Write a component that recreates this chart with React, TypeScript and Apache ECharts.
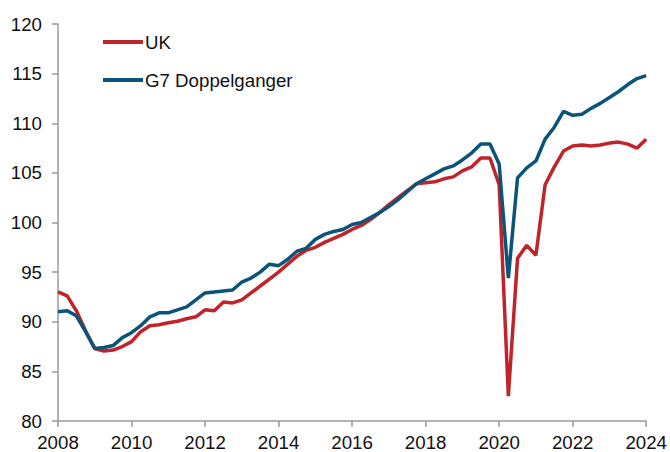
import React, { useEffect, useRef } from "react";
import * as echarts from "echarts";

const START_YEAR = 2008;
const X_TICKS = [2008, 2010, 2012, 2014, 2016, 2018, 2020, 2022, 2024];
const Y_TICKS = [80, 85, 90, 95, 100, 105, 110, 115, 120];

// Quarterly index, 2008Q1 .. 2024Q1
const UK = [
  93.0, 92.6, 91.1, 89.1, 87.3, 87.05, 87.15, 87.5,
  88.0, 89.0, 89.6, 89.7, 89.9, 90.05, 90.3, 90.5,
  91.2, 91.1, 92.0, 91.9, 92.2, 92.9, 93.6, 94.3,
  95.0, 95.8, 96.6, 97.2, 97.5, 98.0, 98.4, 98.8,
  99.3, 99.7, 100.3, 101.0, 101.8, 102.5, 103.2, 103.9,
  104.0, 104.1, 104.4, 104.6, 105.2, 105.6, 106.5, 106.5,
  103.8, 82.5, 96.4, 97.7, 96.7, 103.8, 105.6, 107.2,
  107.7, 107.8, 107.7, 107.8, 108.0, 108.1, 107.9, 107.5,
  108.4,
];

const G7 = [
  91.0, 91.1, 90.6, 89.0, 87.3, 87.4, 87.6, 88.4,
  88.9, 89.6, 90.5, 90.9, 90.9, 91.2, 91.5, 92.2,
  92.9, 93.0, 93.1, 93.2, 94.0, 94.4, 95.0, 95.8,
  95.65, 96.3, 97.1, 97.4, 98.3, 98.8, 99.1, 99.3,
  99.8, 100.0, 100.5, 101.0, 101.6, 102.3, 103.1, 103.9,
  104.4, 104.9, 105.4, 105.7, 106.3, 107.0, 107.9, 107.9,
  105.9, 94.4, 104.5, 105.5, 106.2, 108.4, 109.6, 111.2,
  110.8, 110.9, 111.5, 112.0, 112.6, 113.2, 113.9, 114.5,
  114.8,
];

const SERIES_NAMES = ["UK", "G7 Doppelganger"];
const COLORS = ["#C1232B", "#0B5479"];

const toPoints = (vals: number[]) =>
  vals.map((v, i) => [START_YEAR + i / 4, v]);

export default function App() {
  const ref = useRef<HTMLDivElement>(null);

  useEffect(() => {
    if (!ref.current) return;
    const chart = echarts.init(ref.current, undefined, { renderer: "svg" });
    const font = "'Liberation Sans', Arial, sans-serif";
    const FS = 18.7;
    chart.setOption({
      animation: false,
      backgroundColor: "#ffffff",
      textStyle: { fontFamily: font },
      grid: { left: 58, right: 23, top: 24, bottom: 29, containLabel: false },
      legend: {
        orient: "vertical",
        left: 98,
        top: 27,
        icon: "rect",
        itemWidth: 40,
        itemHeight: 4,
        itemGap: 18,
        data: SERIES_NAMES,
        textStyle: {
          fontFamily: font,
          fontSize: FS,
          color: "#111111",
          lineHeight: 20,
          padding: [0, 0, 0, -3],
        },
      },
      xAxis: {
        type: "value",
        min: X_TICKS[0],
        max: X_TICKS[X_TICKS.length - 1],
        interval: 2,
        axisLine: { show: true, lineStyle: { color: "#9a9a9a", width: 1.5 } },
        axisTick: { show: true, length: 6, lineStyle: { color: "#9a9a9a", width: 1.5 } },
        splitLine: { show: false },
        axisLabel: {
          fontFamily: font,
          fontSize: FS,
          color: "#111111",
          margin: 12,
          formatter: (v: number) => String(v),
        },
      },
      yAxis: {
        type: "value",
        min: Y_TICKS[0],
        max: Y_TICKS[Y_TICKS.length - 1],
        interval: 5,
        axisLine: { show: true, lineStyle: { color: "#9a9a9a", width: 1.5 } },
        axisTick: { show: true, length: 6, lineStyle: { color: "#9a9a9a", width: 1.5 } },
        splitLine: { show: false },
        axisLabel: {
          fontFamily: font,
          fontSize: FS,
          color: "#111111",
          margin: 16,
        },
      },
      series: [
        {
          name: SERIES_NAMES[0],
          type: "line",
          data: toPoints(UK),
          showSymbol: false,
          symbol: "none",
          lineStyle: { color: COLORS[0], width: 3.5 },
          itemStyle: { color: COLORS[0] },
          z: 2,
        },
        {
          name: SERIES_NAMES[1],
          type: "line",
          data: toPoints(G7),
          showSymbol: false,
          symbol: "none",
          lineStyle: { color: COLORS[1], width: 3.5 },
          itemStyle: { color: COLORS[1] },
          z: 3,
        },
      ],
    });
    return () => chart.dispose();
  }, []);

  return <div ref={ref} style={{ width: 670, height: 452, position: "absolute", left: 0, top: 0 }} />;
}
